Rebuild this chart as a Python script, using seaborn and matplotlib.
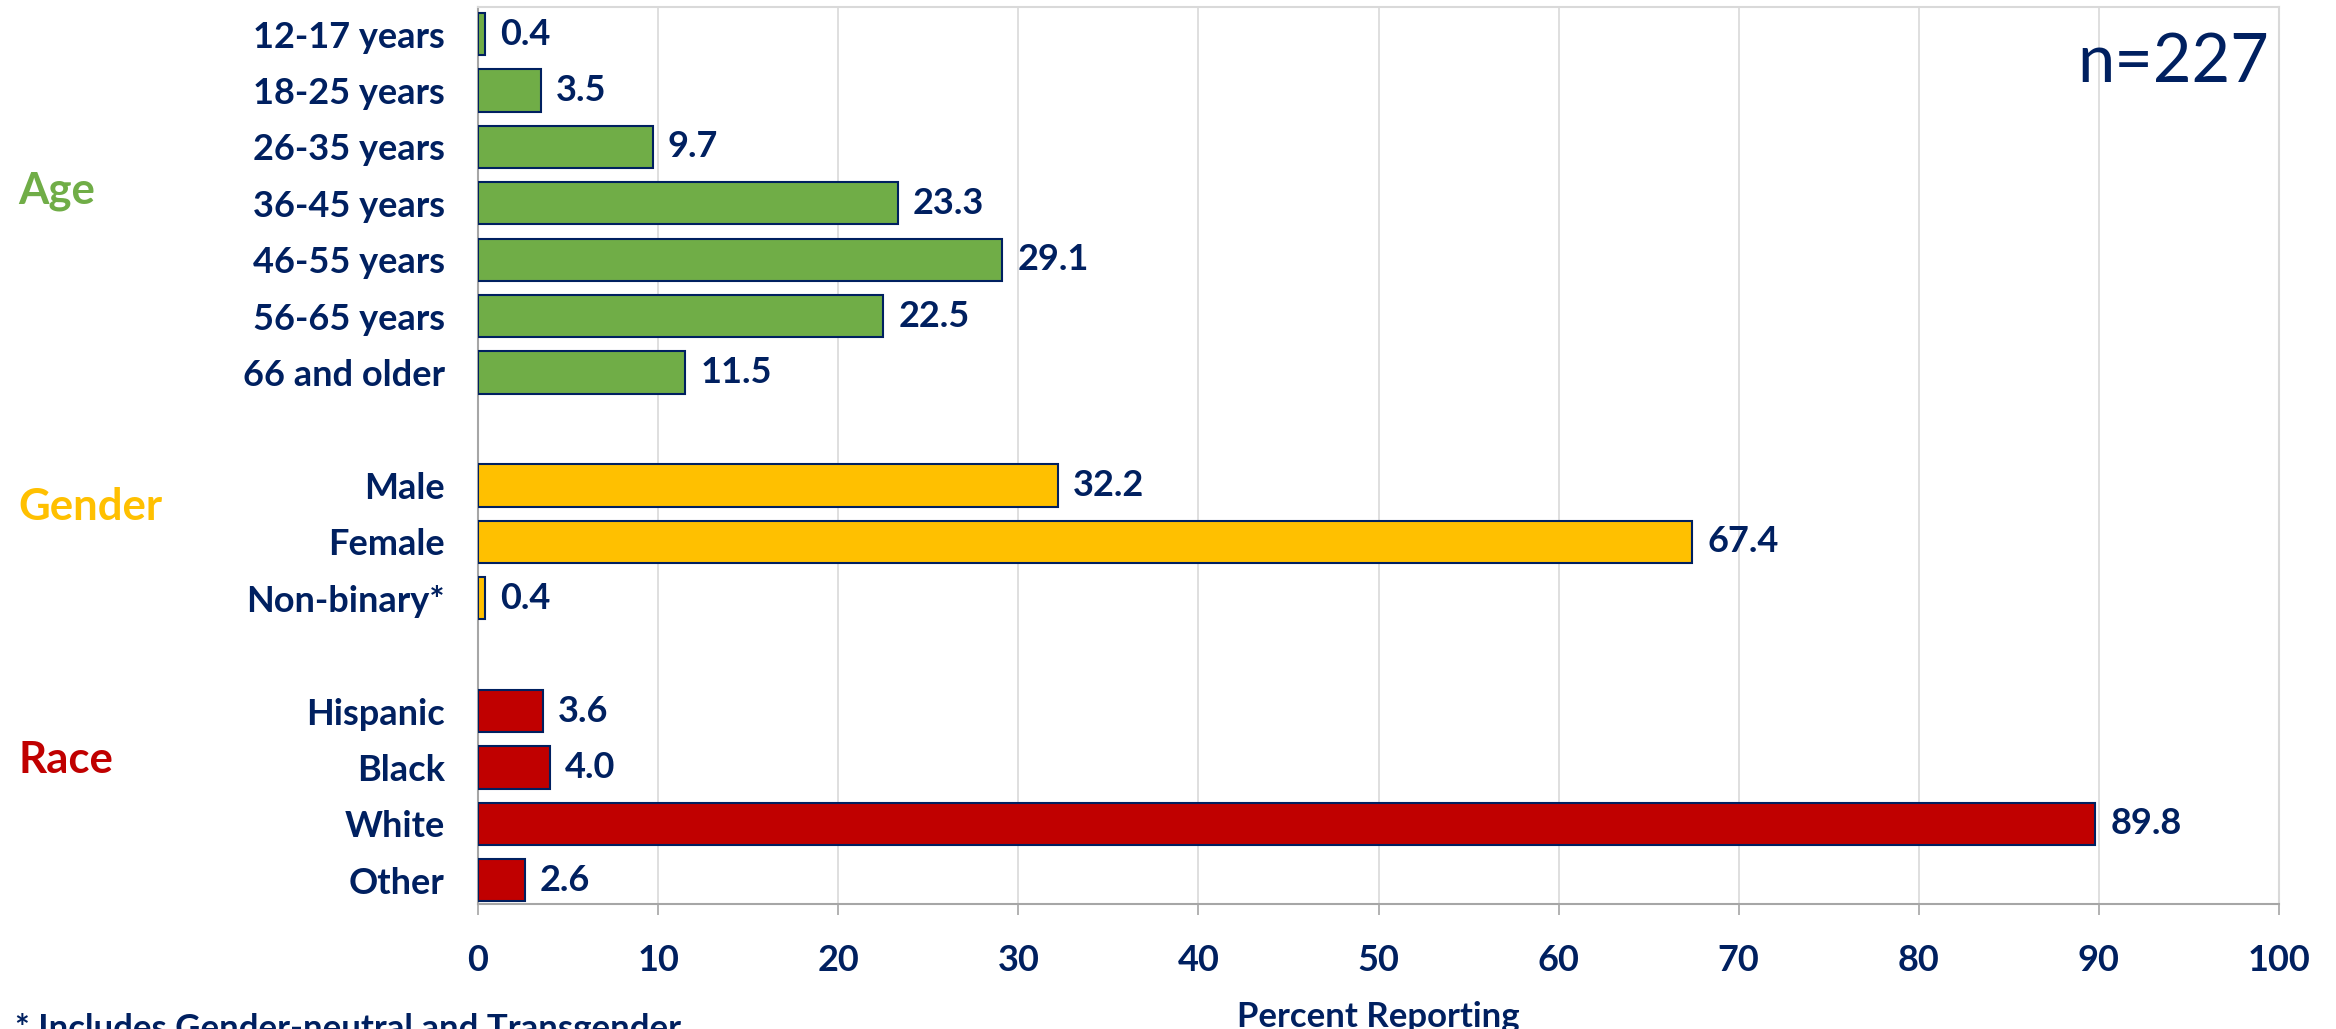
import matplotlib
matplotlib.use("Agg")
import matplotlib.pyplot as plt
import matplotlib.transforms as mtransforms
import seaborn as sns
import pandas as pd

# ---- data ----
age_labels = ["12-17 years", "18-25 years", "26-35 years", "36-45 years",
              "46-55 years", "56-65 years", "66 and older"]
age_values = [0.4, 3.5, 9.7, 23.3, 29.1, 22.5, 11.5]

gender_labels = ["Male", "Female", "Non-binary*"]
gender_values = [32.2, 67.4, 0.4]

race_labels = ["Hispanic", "Black", "White", "Other"]
race_values = [3.6, 4.0, 89.8, 2.6]

group_names = ["Age", "Gender", "Race"]
group_colors = ["#70AD47", "#FFC000", "#C00000"]

x_ticks = [0, 10, 20, 30, 40, 50, 60, 70, 80, 90, 100]
x_label = "Percent Reporting"
n_text = "n=227"
footnote = "* Includes Gender-neutral and Transgender"

NAVY = "#002060"

# ---- table ----
rows = []
for g, labs, vals in zip(group_names,
                         [age_labels, gender_labels, race_labels],
                         [age_values, gender_values, race_values]):
    for l, v in zip(labs, vals):
        rows.append({"label": l, "value": v, "group": g})
df = pd.DataFrame(rows)

order = age_labels + [" "] + gender_labels + ["  "] + race_labels

sns.set_theme(style="white")
plt.rcParams["font.family"] = ["Lato", "DejaVu Sans"]

fig = plt.figure(figsize=(23.36, 10.29), dpi=100)
ax = fig.add_axes([478 / 2336, 1 - 904 / 1029, (2279 - 478) / 2336, (904 - 7) / 1029])

sns.barplot(data=df, x="value", y="label", hue="group", order=order,
            hue_order=group_names, palette=group_colors, dodge=False,
            saturation=1, width=0.75, edgecolor=NAVY, linewidth=1.5,
            legend=False, orient="h", ax=ax, zorder=3)

for cont in ax.containers:
    ax.bar_label(cont, fmt="%.1f", padding=11, color=NAVY,
                 fontsize=26, fontweight="bold")

ax.set_xlim(0, 100)
ax.set_ylim(15.42, -0.48)
ax.set_xticks(x_ticks)
ax.set_xticklabels([str(t) for t in x_ticks])
ax.grid(axis="x", color="#D9D9D9", linewidth=1.2, zorder=0)
ax.grid(axis="y", visible=False)
ax.set_axisbelow(True)

for s in ["top", "right"]:
    ax.spines[s].set_color("#D9D9D9")
    ax.spines[s].set_linewidth(1.5)
for s in ["left", "bottom"]:
    ax.spines[s].set_color("#A6A6A6")
    ax.spines[s].set_linewidth(1.5)

ax.tick_params(axis="x", which="major", bottom=True, length=8, width=1.2,
               color="#A6A6A6", pad=21, labelsize=26, labelcolor=NAVY)
ax.tick_params(axis="y", length=0, pad=24, labelsize=26, labelcolor=NAVY)
for t in ax.get_xticklabels() + ax.get_yticklabels():
    t.set_fontweight("bold")

ax.set_ylabel("")
ax.set_xlabel(x_label, fontsize=25, fontweight="bold", color=NAVY, labelpad=17)

# group labels
trans = mtransforms.blended_transform_factory(fig.transFigure, ax.transData)
group_y = [2.78, 8.38, 12.87]
for g, c, y in zip(group_names, group_colors, group_y):
    fig.text(18 / 2336, y, g, transform=trans, color=c, fontsize=31.5,
             fontweight="bold", ha="left", va="center")

fig.text(2269 / 2336, 1 - 82 / 1029, n_text, color=NAVY, fontsize=48,
         ha="right", va="baseline")

fig.text(15 / 2336, 1 - 1029 / 1029, footnote, color=NAVY, fontsize=25,
         fontweight="bold", ha="left", va="center")

fig.savefig("out.png", dpi=100)
